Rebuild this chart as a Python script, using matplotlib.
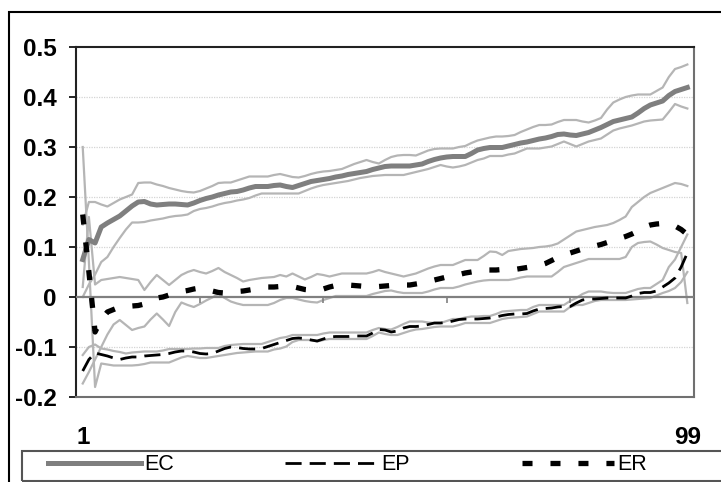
import numpy as np
import matplotlib
matplotlib.use("Agg")
import matplotlib.pyplot as plt
from matplotlib.patches import Rectangle

plt.rcParams['font.family'] = ['Liberation Sans', 'DejaVu Sans']

# percentile positions 1..99
pos = np.arange(1, 100)

ec = [0.075, 0.115, 0.108, 0.140, 0.148, 0.155, 0.162, 0.172, 0.182, 0.190,
      0.191, 0.186, 0.184, 0.185, 0.186, 0.186, 0.185, 0.184, 0.188, 0.193,
      0.197, 0.200, 0.204, 0.207, 0.210, 0.211, 0.214, 0.218, 0.221, 0.221,
      0.221, 0.223, 0.224, 0.221, 0.219, 0.223, 0.227, 0.231, 0.233, 0.235,
      0.237, 0.240, 0.242, 0.245, 0.247, 0.249, 0.251, 0.255, 0.258, 0.261,
      0.262, 0.262, 0.262, 0.262, 0.264, 0.266, 0.271, 0.275, 0.278, 0.280,
      0.281, 0.281, 0.281, 0.287, 0.294, 0.297, 0.299, 0.299, 0.299, 0.302,
      0.305, 0.308, 0.310, 0.313, 0.316, 0.318, 0.321, 0.325, 0.326, 0.324,
      0.323, 0.326, 0.329, 0.334, 0.339, 0.345, 0.351, 0.354, 0.357, 0.360,
      0.368, 0.377, 0.384, 0.388, 0.392, 0.403, 0.411, 0.415, 0.419]

ec_hi = [0.145, 0.190, 0.190, 0.185, 0.181, 0.188, 0.195, 0.200, 0.205, 0.228,
         0.229, 0.229, 0.225, 0.222, 0.218, 0.215, 0.212, 0.210, 0.209, 0.212,
         0.217, 0.222, 0.228, 0.229, 0.229, 0.233, 0.237, 0.241, 0.241, 0.241,
         0.241, 0.244, 0.246, 0.243, 0.240, 0.239, 0.242, 0.246, 0.249, 0.251,
         0.252, 0.254, 0.256, 0.261, 0.266, 0.270, 0.274, 0.270, 0.267, 0.274,
         0.280, 0.283, 0.284, 0.284, 0.283, 0.288, 0.293, 0.296, 0.297, 0.297,
         0.297, 0.300, 0.302, 0.308, 0.313, 0.316, 0.319, 0.321, 0.321, 0.322,
         0.324, 0.330, 0.335, 0.340, 0.344, 0.344, 0.345, 0.350, 0.354, 0.354,
         0.354, 0.351, 0.349, 0.353, 0.358, 0.375, 0.389, 0.395, 0.400, 0.403,
         0.405, 0.405, 0.405, 0.412, 0.419, 0.440, 0.456, 0.460, 0.465]

ec_lo = [0.000, 0.025, 0.045, 0.070, 0.080, 0.100, 0.118, 0.135, 0.149, 0.149,
         0.150, 0.153, 0.155, 0.157, 0.160, 0.162, 0.163, 0.165, 0.172, 0.176,
         0.178, 0.181, 0.185, 0.188, 0.190, 0.193, 0.195, 0.198, 0.203, 0.207,
         0.207, 0.207, 0.207, 0.207, 0.207, 0.207, 0.212, 0.217, 0.221, 0.224,
         0.226, 0.228, 0.230, 0.232, 0.235, 0.238, 0.240, 0.242, 0.243, 0.244,
         0.244, 0.244, 0.244, 0.247, 0.250, 0.253, 0.256, 0.260, 0.264, 0.261,
         0.259, 0.261, 0.264, 0.269, 0.274, 0.277, 0.282, 0.282, 0.282, 0.285,
         0.287, 0.292, 0.297, 0.297, 0.297, 0.299, 0.301, 0.306, 0.311, 0.306,
         0.301, 0.306, 0.311, 0.314, 0.317, 0.325, 0.333, 0.337, 0.340, 0.343,
         0.347, 0.351, 0.353, 0.354, 0.355, 0.370, 0.386, 0.381, 0.377]

ep = [-0.148, -0.125, -0.112, -0.115, -0.118, -0.122, -0.125, -0.122, -0.120, -0.120,
      -0.118, -0.117, -0.116, -0.115, -0.113, -0.110, -0.108, -0.108, -0.110, -0.113,
      -0.114, -0.113, -0.108, -0.103, -0.100, -0.101, -0.103, -0.104, -0.104, -0.103,
      -0.099, -0.095, -0.091, -0.087, -0.083, -0.082, -0.083, -0.086, -0.088, -0.084,
      -0.080, -0.079, -0.079, -0.079, -0.078, -0.078, -0.078, -0.072, -0.065, -0.066,
      -0.070, -0.068, -0.062, -0.059, -0.059, -0.058, -0.055, -0.052, -0.052, -0.051,
      -0.048, -0.045, -0.044, -0.044, -0.044, -0.043, -0.042, -0.040, -0.037, -0.035,
      -0.034, -0.034, -0.033, -0.028, -0.024, -0.023, -0.022, -0.020, -0.019, -0.019,
      -0.012, -0.006, -0.004, -0.004, -0.003, -0.002, -0.002, -0.002, -0.002, 0.002,
      0.007, 0.009, 0.009, 0.012, 0.020, 0.028, 0.038, 0.060, 0.088]

ep_hi = [-0.116, -0.100, -0.095, -0.103, -0.105, -0.108, -0.110, -0.113, -0.111, -0.110,
         -0.109, -0.109, -0.109, -0.107, -0.104, -0.104, -0.104, -0.104, -0.103, -0.103,
         -0.102, -0.102, -0.102, -0.098, -0.096, -0.095, -0.094, -0.094, -0.094, -0.094,
         -0.090, -0.086, -0.082, -0.080, -0.076, -0.076, -0.076, -0.076, -0.076, -0.073,
         -0.071, -0.071, -0.071, -0.071, -0.071, -0.071, -0.071, -0.066, -0.062, -0.064,
         -0.065, -0.060, -0.054, -0.049, -0.049, -0.049, -0.051, -0.052, -0.052, -0.048,
         -0.044, -0.044, -0.041, -0.039, -0.039, -0.038, -0.038, -0.034, -0.029, -0.028,
         -0.027, -0.026, -0.026, -0.020, -0.016, -0.016, -0.016, -0.016, -0.016, -0.008,
         -0.002, 0.006, 0.011, 0.011, 0.011, 0.009, 0.008, 0.008, 0.008, 0.012,
         0.016, 0.018, 0.018, 0.026, 0.034, 0.060, 0.075, 0.100, 0.125]

ep_lo = [0.300, 0.070, -0.180, -0.133, -0.135, -0.137, -0.137, -0.137, -0.137, -0.136,
         -0.134, -0.131, -0.131, -0.131, -0.131, -0.126, -0.121, -0.118, -0.120, -0.122,
         -0.122, -0.120, -0.118, -0.116, -0.114, -0.112, -0.111, -0.110, -0.109, -0.109,
         -0.109, -0.105, -0.103, -0.099, -0.090, -0.086, -0.086, -0.086, -0.089, -0.086,
         -0.084, -0.084, -0.084, -0.084, -0.084, -0.084, -0.084, -0.078, -0.071, -0.074,
         -0.076, -0.076, -0.072, -0.068, -0.065, -0.064, -0.062, -0.060, -0.059, -0.059,
         -0.059, -0.056, -0.052, -0.052, -0.052, -0.052, -0.052, -0.048, -0.044, -0.042,
         -0.041, -0.040, -0.039, -0.034, -0.029, -0.029, -0.029, -0.029, -0.029, -0.020,
         -0.016, -0.016, -0.012, -0.008, -0.006, -0.006, -0.006, -0.006, -0.006, -0.005,
         -0.004, -0.003, -0.002, 0.003, 0.008, 0.012, 0.018, 0.030, 0.050]

er = [0.165, 0.050, -0.070, -0.045, -0.030, -0.025, -0.020, -0.018, -0.018, -0.017,
      -0.014, -0.006, -0.002, 0.000, 0.004, 0.008, 0.011, 0.013, 0.016, 0.018,
      0.016, 0.012, 0.009, 0.008, 0.009, 0.011, 0.012, 0.014, 0.016, 0.018,
      0.020, 0.020, 0.021, 0.021, 0.021, 0.018, 0.015, 0.014, 0.014, 0.016,
      0.020, 0.023, 0.024, 0.024, 0.023, 0.022, 0.021, 0.021, 0.021, 0.022,
      0.023, 0.024, 0.024, 0.024, 0.026, 0.028, 0.031, 0.034, 0.037, 0.040,
      0.042, 0.045, 0.048, 0.050, 0.052, 0.054, 0.054, 0.054, 0.055, 0.055,
      0.055, 0.057, 0.059, 0.061, 0.063, 0.067, 0.073, 0.079, 0.085, 0.088,
      0.092, 0.096, 0.099, 0.102, 0.105, 0.109, 0.113, 0.117, 0.121, 0.126,
      0.132, 0.140, 0.144, 0.146, 0.147, 0.146, 0.142, 0.135, 0.125]

er_hi = [0.020, 0.160, 0.025, 0.034, 0.036, 0.038, 0.040, 0.038, 0.036, 0.034,
         0.014, 0.030, 0.044, 0.034, 0.024, 0.034, 0.044, 0.050, 0.054, 0.050,
         0.047, 0.052, 0.058, 0.050, 0.044, 0.038, 0.031, 0.034, 0.036, 0.038,
         0.039, 0.040, 0.044, 0.041, 0.047, 0.041, 0.035, 0.040, 0.046, 0.044,
         0.041, 0.044, 0.047, 0.047, 0.047, 0.047, 0.047, 0.050, 0.054, 0.050,
         0.047, 0.044, 0.041, 0.044, 0.047, 0.052, 0.057, 0.061, 0.064, 0.064,
         0.064, 0.069, 0.074, 0.074, 0.074, 0.082, 0.091, 0.090, 0.084, 0.092,
         0.094, 0.096, 0.097, 0.098, 0.100, 0.101, 0.103, 0.107, 0.115, 0.123,
         0.131, 0.134, 0.137, 0.140, 0.142, 0.144, 0.148, 0.154, 0.161, 0.180,
         0.190, 0.200, 0.208, 0.213, 0.218, 0.223, 0.228, 0.226, 0.222]

er_lo = [-0.173, -0.150, -0.125, -0.100, -0.075, -0.055, -0.046, -0.056, -0.066, -0.062,
         -0.059, -0.045, -0.033, -0.045, -0.058, -0.030, -0.011, -0.016, -0.020, -0.014,
         -0.007, -0.001, 0.006, -0.002, -0.009, -0.013, -0.016, -0.016, -0.016, -0.016,
         -0.016, -0.012, -0.006, -0.002, -0.002, -0.005, -0.008, -0.010, -0.011, -0.006,
         -0.002, 0.002, 0.002, 0.002, 0.002, 0.002, 0.002, 0.006, 0.009, 0.012,
         0.013, 0.010, 0.008, 0.008, 0.008, 0.008, 0.011, 0.015, 0.018, 0.018,
         0.018, 0.021, 0.025, 0.028, 0.031, 0.033, 0.034, 0.034, 0.034, 0.034,
         0.036, 0.039, 0.041, 0.041, 0.041, 0.041, 0.041, 0.050, 0.060, 0.064,
         0.068, 0.072, 0.076, 0.076, 0.076, 0.076, 0.076, 0.076, 0.080, 0.100,
         0.108, 0.110, 0.111, 0.105, 0.098, 0.094, 0.090, 0.088, -0.012]

y_ticks = [-0.2, -0.1, 0, 0.1, 0.2, 0.3, 0.4, 0.5]
y_labels = ['-0.2', '-0.1', '0', '0.1', '0.2', '0.3', '0.4', '0.5']
x_ticks = [1, 99]
zero_ticks = [20, 40, 60, 80]

W, H = 721, 482
fig = plt.figure(figsize=(W / 100, H / 100), dpi=100)
ax = fig.add_axes([76 / W, 1 - 397 / H, (694 - 76) / W, (397 - 47) / H])

# outer chart frame and legend box
fig.add_artist(Rectangle((9 / W, -0.1), 1.2, 1.1 - 12 / H, transform=fig.transFigure,
                         fill=False, edgecolor='black', lw=1.5))
fig.add_artist(Rectangle((22 / W, 1 / H), 1.2, 30 / H, transform=fig.transFigure,
                         fill=False, edgecolor='#555555', lw=1.5))

band_kw = dict(color='#b5b5b5', lw=1.6, zorder=2)
for band in (ec_hi, ec_lo, ep_hi, ep_lo, er_hi, er_lo):
    ax.plot(pos, band, **band_kw)

l_ec, = ax.plot(pos, ec, color='#7f7f7f', lw=3.6, zorder=4, label='EC')
l_ep, = ax.plot(pos, ep, color='black', lw=2.0, zorder=5, label='EP',
                dashes=(5.8, 2.9), dash_capstyle='butt')
l_er, = ax.plot(pos, er, color='black', lw=3.8, zorder=6, label='ER',
                dashes=(1.9, 3.4), dash_capstyle='butt')

ax.axhline(0, color='#808080', lw=1.6, zorder=3)
ax.vlines(zero_ticks, -0.012, 0, color='#808080', lw=1.2, zorder=3)

for v in y_ticks[1:-1]:
    if v != 0:
        ax.axhline(v, color='#d4d4d4', lw=0.9, ls=(0, (1, 1)), zorder=1)

ax.set_xlim(-0.09, 100.08)
ax.set_ylim(-0.2, 0.5)
ax.set_yticks(y_ticks)
ax.set_yticklabels(y_labels)
ax.set_xticks(x_ticks)
ax.set_xticklabels([str(t) for t in x_ticks])
ax.tick_params(axis='y', direction='out', length=5, width=1.2, pad=9,
               labelsize=17.5, color='black')
ax.tick_params(axis='x', length=0, pad=21, labelsize=17.5)
for lab in ax.get_xticklabels() + ax.get_yticklabels():
    lab.set_fontweight('bold')

for side in ('left', 'top'):
    ax.spines[side].set_color('#222222')
for side in ('right', 'bottom'):
    ax.spines[side].set_color('#707070')
for sp in ax.spines.values():
    sp.set_linewidth(1.5)

fig.legend(handles=[l_ec, l_ep, l_er], labels=['EC', 'EP', 'ER'],
           loc='center left', bbox_to_anchor=(48 / W, 1 - 465 / H),
           ncol=3, frameon=False, fontsize=15.5, borderpad=0, borderaxespad=0,
           handlelength=4.3, handletextpad=0.15, columnspacing=5.2)

fig.savefig('out.png', dpi=100)
